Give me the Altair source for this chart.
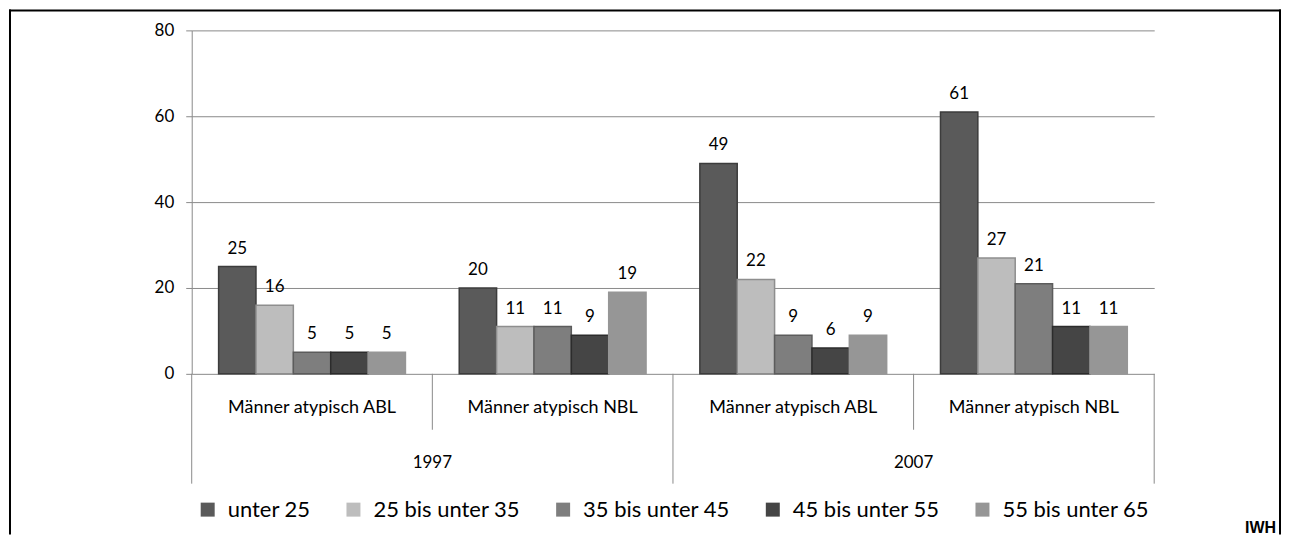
import altair as alt
import pandas as pd

groups = ["1997|ABL", "1997|NBL", "2007|ABL", "2007|NBL"]
group_labels = ["Männer atypisch  ABL", "Männer atypisch  NBL", "Männer atypisch  ABL", "Männer atypisch  NBL"]
years = ["1997", "2007"]
year_anchor = ["1997|NBL", "2007|NBL"]

series = ["unter 25", "25 bis unter 35", "35 bis unter 45", "45 bis unter 55", "55 bis unter 65"]
colors = ["#5a5a5a", "#bdbdbd", "#7e7e7e", "#454545", "#969696"]
edge_colors = ["#3c3c3c", "#8e8e8e", "#5c5c5c", "#2c2c2c", "#969696"]

v_unter25 = [25, 20, 49, 61]
v_25_35 = [16, 11, 22, 27]
v_35_45 = [5, 11, 9, 21]
v_45_55 = [5, 9, 6, 11]
v_55_65 = [5, 19, 9, 11]

all_vals = [v_unter25, v_25_35, v_35_45, v_45_55, v_55_65]
rows = []
for s, vals in zip(series, all_vals):
    for g, v in zip(groups, vals):
        rows.append({"grp": g, "series": s, "value": v})
df = pd.DataFrame(rows)

FONT = "Lato"
GRID = "#8a8a8a"
H = 344
W = 964

xscale = alt.Scale(domain=groups, paddingInner=0, paddingOuter=0)
xoff = alt.XOffset("series:N", sort=series,
                   scale=alt.Scale(domain=series, paddingInner=0, paddingOuter=0.72))

base = alt.Chart(df)

bars = base.mark_bar(strokeWidth=1.5).encode(
    x=alt.X("grp:N", scale=xscale, axis=None),
    xOffset=xoff,
    y=alt.Y("value:Q", scale=alt.Scale(domain=[0, 80], nice=False),
            axis=alt.Axis(values=[0, 20, 40, 60, 80], title=None, grid=True,
                          gridColor=GRID, domainColor=GRID, tickColor=GRID,
                          tickSize=6, labelPadding=12, labelFontSize=17,
                          labelFont=FONT, labelColor="black")),
    color=alt.Color("series:N", sort=series,
                    scale=alt.Scale(domain=series, range=colors),
                    legend=alt.Legend(title=None, orient="none", direction="horizontal",
                                      legendX=5, legendY=469, symbolType="square",
                                      symbolSize=196, symbolStrokeWidth=0,
                                      labelFont=FONT, labelFontSize=22,
                                      labelColor="black", labelOffset=9,
                                      columnPadding=32, labelLimit=300)),
    stroke=alt.Stroke("series:N", sort=series,
                      scale=alt.Scale(domain=series, range=edge_colors), legend=None),
)

labels = base.mark_text(baseline="bottom", dy=-9, fontSize=17, font=FONT, color="black").encode(
    x=alt.X("grp:N", scale=xscale, axis=None),
    xOffset=xoff,
    y=alt.Y("value:Q"),
    text=alt.Text("value:Q"),
)

cat_df = pd.DataFrame({"grp": groups, "label": group_labels})
cat_text = alt.Chart(cat_df).mark_text(fontSize=18, font=FONT, color="black", baseline="middle").encode(
    x=alt.X("grp:N", scale=xscale, axis=None),
    y=alt.value(378),
    text="label:N",
)

year_df = pd.DataFrame({"grp": year_anchor, "year": years})
year_text = alt.Chart(year_df).mark_text(fontSize=17, font=FONT, color="black", baseline="middle").encode(
    x=alt.X("grp:N", scale=xscale, axis=None, bandPosition=0),
    y=alt.value(433),
    text="year:N",
)

short_df = pd.DataFrame({"grp": ["1997|NBL", "2007|NBL"]})
short_rules = alt.Chart(short_df).mark_rule(color=GRID, strokeWidth=1).encode(
    x=alt.X("grp:N", scale=xscale, axis=None, bandPosition=0),
    y=alt.value(H), y2=alt.value(400),
)
long_df = pd.DataFrame({"grp": ["1997|ABL", "2007|ABL"]})
long_rules = alt.Chart(long_df).mark_rule(color=GRID, strokeWidth=1).encode(
    x=alt.X("grp:N", scale=xscale, axis=None, bandPosition=0),
    y=alt.value(H), y2=alt.value(454),
)
end_df = pd.DataFrame({"grp": ["2007|NBL"]})
end_rule = alt.Chart(end_df).mark_rule(color=GRID, strokeWidth=1).encode(
    x=alt.X("grp:N", scale=xscale, axis=None, bandPosition=1),
    y=alt.value(H), y2=alt.value(454),
)

one = pd.DataFrame({"a": [0]})
frame_top = alt.Chart(one).mark_rule(color="black", strokeWidth=2).encode(
    x=alt.value(-183), x2=alt.value(1091), y=alt.value(-20))
frame_left = alt.Chart(one).mark_rule(color="black", strokeWidth=2).encode(
    x=alt.value(-182), y=alt.value(-21), y2=alt.value(505))
frame_right = alt.Chart(one).mark_rule(color="black", strokeWidth=2).encode(
    x=alt.value(1090), y=alt.value(-21), y2=alt.value(505))

iwh = alt.Chart(pd.DataFrame({"t": ["IWH"]})).mark_text(
    fontSize=16, font="Liberation Sans", fontWeight="bold", align="right",
    baseline="middle", color="black").encode(
    x=alt.value(1086), y=alt.value(498), text="t:N")

chart = alt.layer(
    bars, labels, cat_text, year_text, short_rules, long_rules, end_rule,
    frame_top, frame_left, frame_right, iwh
).resolve_scale(color="independent", stroke="independent").properties(
    width=W, height=H, padding=0).configure_view(stroke=None)

chart.save("out.html", embed_options={"renderer": "svg", "actions": False})
